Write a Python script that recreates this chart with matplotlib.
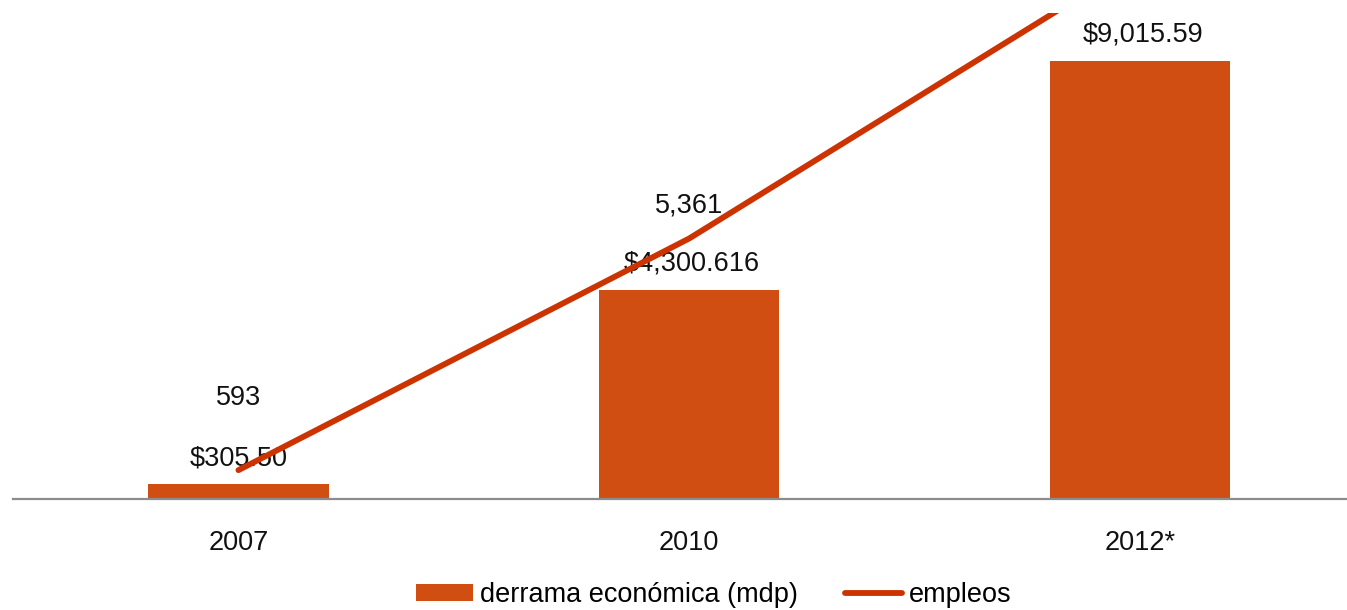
import numpy as np
import matplotlib
matplotlib.use('Agg')
import matplotlib.pyplot as plt

plt.rcParams['font.family'] = ['Liberation Sans', 'DejaVu Sans']

years = ['2007', '2010', '2012*']
derrama = [305.50, 4300.616, 9015.59]
derrama_labels = ['$305.50', '$4,300.616', '$9,015.59']
empleos = [593, 5361, 11100]
empleos_labels = ['593', '5,361', '']

bar_color = '#D04E12'
line_color = '#CC3300'
fs = 19.5

fig = plt.figure(figsize=(13.47, 6.10), dpi=100)
ax = fig.add_axes([13/1347, 0.182, 1 - 13/1347, 0.7967])
x = np.arange(len(years))

ax.bar(x, derrama, width=0.4, color=bar_color, label='derrama económica (mdp)', zorder=2)
ax.set_xlim(-0.5, 2.459)
ax.set_ylim(0, 10000)

ax2 = ax.twinx()
ax2.plot(x, empleos, color=line_color, lw=4.2, solid_capstyle='round',
         label='empleos', zorder=3)
ax2.set_ylim(0, 10000)

# data labels
for xi, v, lab in zip(x, derrama, derrama_labels):
    ax.annotate(lab, (xi, v), xytext=(3 if xi else 0, 26), textcoords='offset pixels',
                ha='center', va='center', fontsize=fs, color='#111111', zorder=5)
line_offsets = [72, 33, 0]
for xi, v, lab, off in zip(x, empleos, empleos_labels, line_offsets):
    if lab:
        ax2.annotate(lab, (xi, v), xytext=(0, off), textcoords='offset pixels',
                     ha='center', va='center', fontsize=fs, color='#111111')

for a in (ax, ax2):
    for s in ('top', 'left', 'right'):
        a.spines[s].set_visible(False)
    a.set_yticks([])
ax2.spines['bottom'].set_visible(False)
ax.spines['bottom'].set_color('#8c8c8c')
ax.spines['bottom'].set_linewidth(1.6)
ax.set_xticks(x)
ax.set_xticklabels(years, fontsize=fs, color='#111111')
ax.tick_params(axis='x', length=0, pad=22)

h1, l1 = ax.get_legend_handles_labels()
h2, l2 = ax2.get_legend_handles_labels()
fig.legend(h1 + h2, l1 + l2, loc='center', bbox_to_anchor=(714/1347, 0.024),
           ncol=2, frameon=False, fontsize=fs, handlelength=2.1, handleheight=0.6,
           handletextpad=0.25, columnspacing=1.75, borderpad=0)

fig.savefig('out.png', dpi=100)
